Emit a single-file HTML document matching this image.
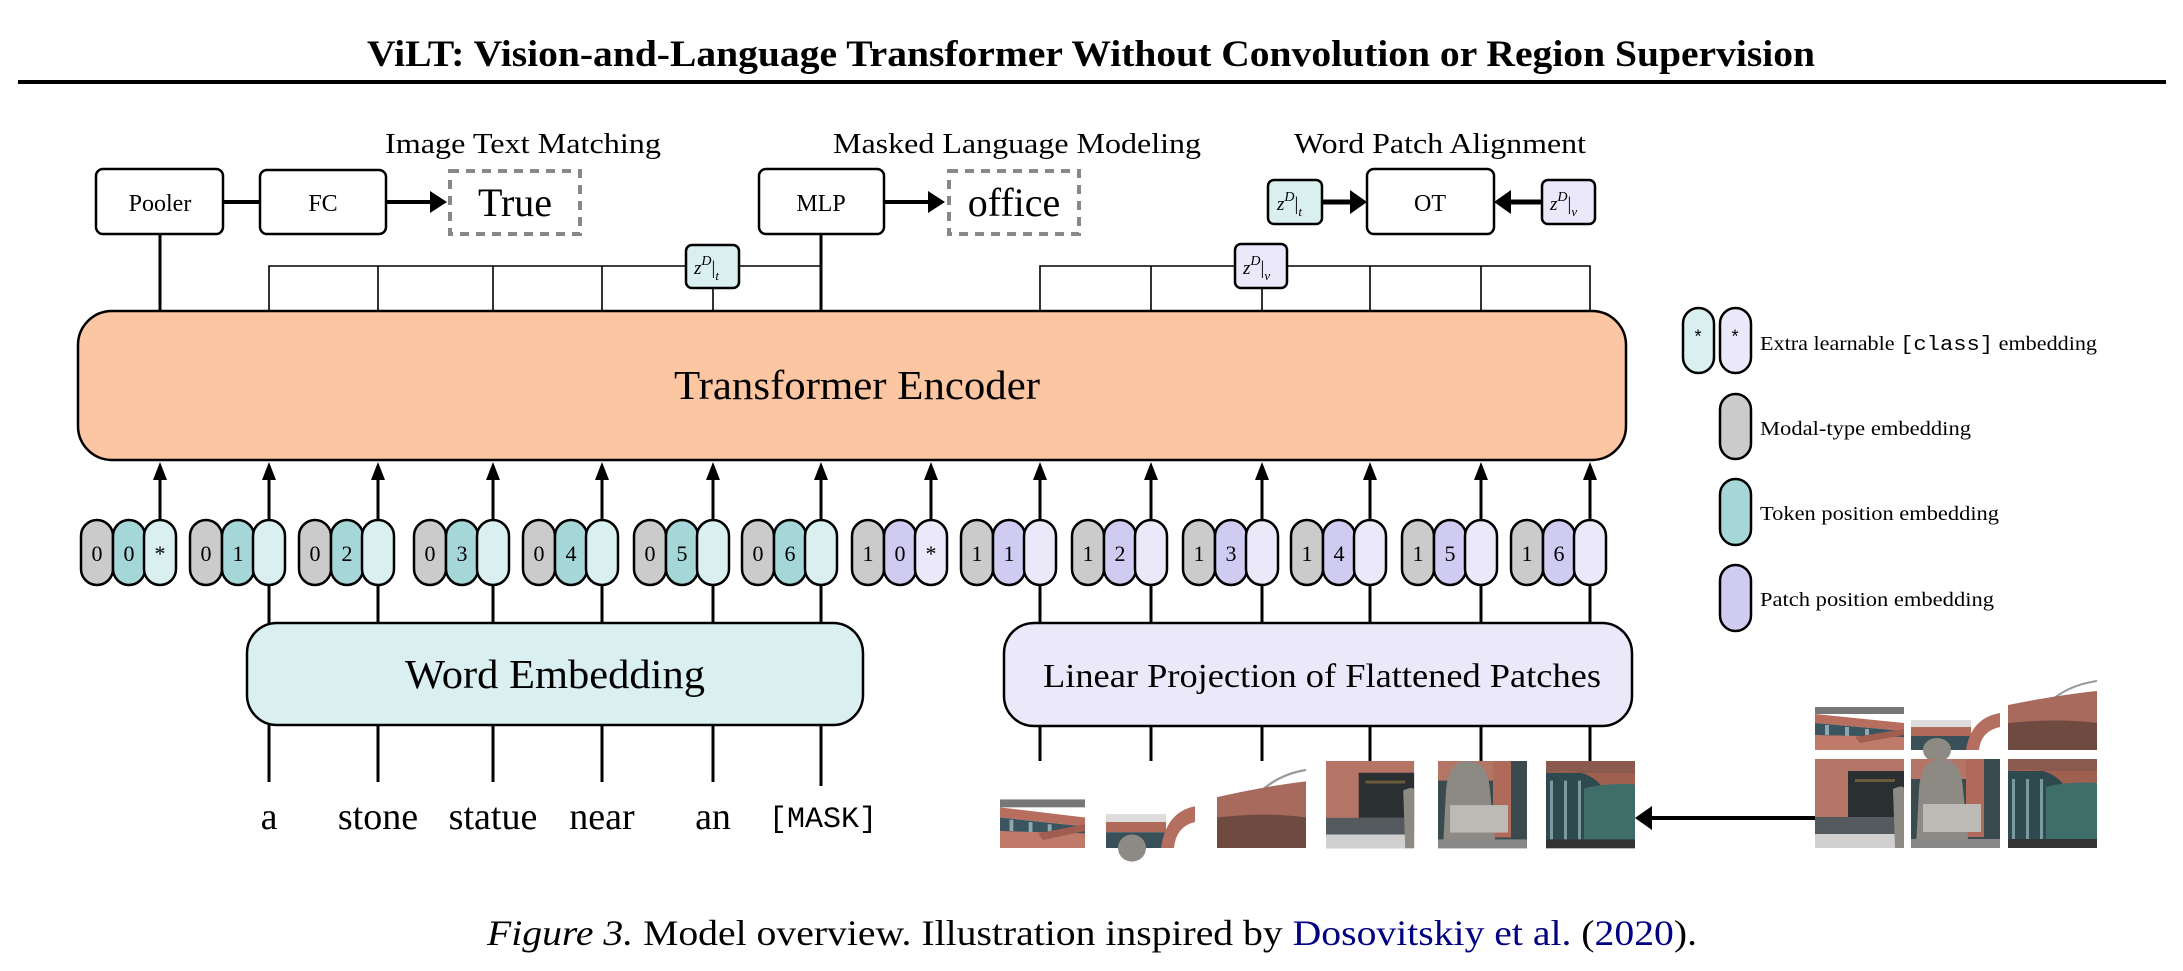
<!DOCTYPE html>
<html><head><meta charset="utf-8"><style>
html,body{margin:0;padding:0;background:#fff}
svg{display:block}
text{font-family:"Liberation Serif",serif;fill:#000}
.c{stroke:#000;stroke-width:2.5}
.g{fill:#cbcbcb}.t{fill:#a6d7d8}.lt{fill:#d9eff0}.p{fill:#cfcbf1}.lp{fill:#ebe8f9}
.n{font-size:22px;text-anchor:middle}
.th{stroke:#000;stroke-width:1.6;fill:none}
.tk{stroke:#000;stroke-width:3;fill:none}
.box{fill:#fff;stroke:#000;stroke-width:2.5}
</style></head><body>
<svg width="2183" height="971" viewBox="0 0 2183 971" xmlns="http://www.w3.org/2000/svg">
<defs>
<g id="pA"><rect width="89" height="77" fill="#fff"/><rect y="34" width="89" height="7" fill="#777"/><polygon points="0,41 89,50 89,58 0,50" fill="#b86e5e"/><polygon points="0,50 89,58 89,68 0,62" fill="#3a5560"/><rect x="10" y="52" width="4" height="10" fill="#8fa7ae"/><rect x="30" y="54" width="4" height="10" fill="#8fa7ae"/><rect x="50" y="56" width="4" height="10" fill="#8fa7ae"/><polygon points="0,62 89,64 89,77 0,77" fill="#c07a6a"/><polygon points="40,64 89,56 89,62 45,70" fill="#a05d50"/></g>
<g id="pB"><rect width="89" height="77" fill="#fff"/><rect x="0" y="47" width="60" height="7" fill="#ddd"/><rect x="0" y="54" width="60" height="9" fill="#b06a5a"/><rect x="0" y="63" width="60" height="14" fill="#3a5058"/><path d="M55,77 Q60,45 89,40 L89,54 Q70,58 68,77 Z" fill="#b56f60"/><ellipse cx="26" cy="77" rx="14" ry="12" fill="#8d8a84"/></g>
<g id="pC"><rect width="89" height="77" fill="#fff"/><path d="M40,30 Q60,12 89,8" stroke="#999" stroke-width="2" fill="none"/><path d="M0,32 Q50,22 89,18 L89,77 L0,77 Z" fill="#a86a5c"/><path d="M0,50 Q50,45 89,50 L89,77 L0,77 Z" fill="#6e4a40"/></g>
<g id="pD"><rect width="89" height="89" fill="#b57566"/><rect x="33" y="12" width="56" height="46" fill="#2a3032"/><rect x="40" y="20" width="40" height="3" fill="#6a5a3a"/><rect y="58" width="89" height="17" fill="#555a5e"/><rect y="75" width="89" height="14" fill="#d0d0d0"/><path d="M78,30 Q89,25 89,30 L89,89 L80,89 Z" fill="#8d8a84"/></g>
<g id="pE"><rect width="89" height="89" fill="#3a4a4e"/><rect x="55" y="0" width="18" height="78" fill="#b06a5a"/><rect x="0" y="0" width="55" height="20" fill="#b57566"/><path d="M5,89 L8,30 Q10,0 30,0 Q50,0 52,30 L58,89 Z" fill="#8d8a84"/><rect x="12" y="45" width="58" height="28" fill="#bcbab5"/><rect x="0" y="80" width="89" height="9" fill="#888"/></g>
<g id="pF"><rect width="89" height="89" fill="#2f4a4e"/><rect width="89" height="12" fill="#8a5a4e"/><path d="M0,12 Q40,5 55,25 L89,25 L89,12 Z" fill="#a06050"/><rect x="4" y="20" width="3" height="60" fill="#7a9aa0"/><rect x="18" y="20" width="3" height="60" fill="#7a9aa0"/><rect x="32" y="20" width="3" height="60" fill="#7a9aa0"/><path d="M38,28 Q60,22 89,24 L89,86 L38,80 Z" fill="#3f6e6a"/><rect y="80" width="89" height="9" fill="#333"/></g>
<g id="ah"><polygon points="-7,18 7,18 0,0" fill="#000"/></g>
</defs>

<text x="1091" y="66" font-size="37" font-weight="bold" text-anchor="middle" textLength="1448" lengthAdjust="spacingAndGlyphs">ViLT: Vision-and-Language Transformer Without Convolution or Region Supervision</text>
<rect x="18" y="80" width="2148" height="4" fill="#000"/>

<text x="523" y="153" font-size="29" text-anchor="middle" textLength="276" lengthAdjust="spacingAndGlyphs">Image Text Matching</text>
<text x="1017" y="153" font-size="29" text-anchor="middle" textLength="368" lengthAdjust="spacingAndGlyphs">Masked Language Modeling</text>
<text x="1440" y="153" font-size="29" text-anchor="middle" textLength="292" lengthAdjust="spacingAndGlyphs">Word Patch Alignment</text>

<rect class="box" x="96" y="169" width="127" height="65" rx="7"/>
<text x="160" y="211" font-size="24" text-anchor="middle">Pooler</text>
<line class="tk" x1="223" y1="202" x2="260" y2="202" style="stroke-width:4"/>
<rect class="box" x="260" y="170" width="126" height="64" rx="7"/>
<text x="323" y="211" font-size="24" text-anchor="middle">FC</text>
<line class="tk" x1="386" y1="202" x2="432" y2="202" style="stroke-width:4"/>
<polygon points="430,191 447,202 430,213" fill="#000"/>
<rect x="450" y="171" width="130" height="63" fill="none" stroke="#888" stroke-width="4" stroke-dasharray="9,7"/>
<text x="515" y="216" font-size="40" text-anchor="middle">True</text>

<rect class="box" x="759" y="169" width="125" height="65" rx="7"/>
<text x="821" y="211" font-size="24" text-anchor="middle">MLP</text>
<line class="tk" x1="884" y1="202" x2="930" y2="202" style="stroke-width:4"/>
<polygon points="928,191 945,202 928,213" fill="#000"/>
<rect x="949" y="171" width="130" height="63" fill="none" stroke="#888" stroke-width="4" stroke-dasharray="9,7"/>
<text x="1014" y="216" font-size="40" text-anchor="middle">office</text>

<rect x="1268" y="180" width="54" height="44" rx="6" class="lt c"/>
<text x="1277" y="210" font-size="19" font-style="italic">z<tspan dy="-9" font-size="14">D</tspan><tspan dy="9" font-style="normal">|</tspan><tspan dy="6" font-size="13">t</tspan></text>
<line class="tk" x1="1322" y1="202" x2="1352" y2="202" style="stroke-width:5"/>
<polygon points="1350,190 1367,202 1350,214" fill="#000"/>
<rect class="box" x="1367" y="169" width="127" height="65" rx="7"/>
<text x="1430" y="211" font-size="24" text-anchor="middle">OT</text>
<line class="tk" x1="1510" y1="202" x2="1542" y2="202" style="stroke-width:5"/>
<polygon points="1511,190 1494,202 1511,214" fill="#000"/>
<rect x="1542" y="180" width="53" height="44" rx="6" class="lp c"/>
<text x="1550" y="210" font-size="19" font-style="italic">z<tspan dy="-9" font-size="14">D</tspan><tspan dy="9" font-style="normal">|</tspan><tspan dy="6" font-size="13">v</tspan></text>

<line class="tk" x1="160" y1="234" x2="160" y2="312"/>
<line class="tk" x1="821" y1="234" x2="821" y2="312"/>
<path class="th" d="M269,312 V266 H821 M378,266 V312 M493,266 V312 M602,266 V312 M713,266 V312"/>
<rect x="686" y="245" width="53" height="43" rx="6" class="lt c"/>
<text x="694" y="274" font-size="19" font-style="italic">z<tspan dy="-9" font-size="14">D</tspan><tspan dy="9" font-style="normal">|</tspan><tspan dy="6" font-size="13">t</tspan></text>
<path class="th" d="M1040,312 V266 H1590 V312 M1151,266 V312 M1262,266 V312 M1370,266 V312 M1481,266 V312"/>
<rect x="1235" y="244" width="52" height="44" rx="6" class="lp c"/>
<text x="1243" y="274" font-size="19" font-style="italic">z<tspan dy="-9" font-size="14">D</tspan><tspan dy="9" font-style="normal">|</tspan><tspan dy="6" font-size="13">v</tspan></text>

<rect x="78" y="311" width="1548" height="149" rx="34" fill="#fcc6a2" stroke="#000" stroke-width="2.5"/>
<text x="857" y="399" font-size="41" text-anchor="middle" textLength="366" lengthAdjust="spacingAndGlyphs">Transformer Encoder</text>

<g stroke="#000" stroke-width="3">
<line x1="160" y1="475" x2="160" y2="521"/><line x1="269" y1="475" x2="269" y2="521"/><line x1="378" y1="475" x2="378" y2="521"/><line x1="493" y1="475" x2="493" y2="521"/><line x1="602" y1="475" x2="602" y2="521"/><line x1="713" y1="475" x2="713" y2="521"/><line x1="821" y1="475" x2="821" y2="521"/><line x1="931" y1="475" x2="931" y2="521"/><line x1="1040" y1="475" x2="1040" y2="521"/><line x1="1151" y1="475" x2="1151" y2="521"/><line x1="1262" y1="475" x2="1262" y2="521"/><line x1="1370" y1="475" x2="1370" y2="521"/><line x1="1481" y1="475" x2="1481" y2="521"/><line x1="1590" y1="475" x2="1590" y2="521"/>
</g>
<use href="#ah" x="160" y="462"/><use href="#ah" x="269" y="462"/><use href="#ah" x="378" y="462"/><use href="#ah" x="493" y="462"/><use href="#ah" x="602" y="462"/><use href="#ah" x="713" y="462"/><use href="#ah" x="821" y="462"/><use href="#ah" x="931" y="462"/><use href="#ah" x="1040" y="462"/><use href="#ah" x="1151" y="462"/><use href="#ah" x="1262" y="462"/><use href="#ah" x="1370" y="462"/><use href="#ah" x="1481" y="462"/><use href="#ah" x="1590" y="462"/>

<g stroke="#000" stroke-width="3">
<line x1="269" y1="585" x2="269" y2="624"/><line x1="378" y1="585" x2="378" y2="624"/><line x1="493" y1="585" x2="493" y2="624"/><line x1="602" y1="585" x2="602" y2="624"/><line x1="713" y1="585" x2="713" y2="624"/><line x1="821" y1="585" x2="821" y2="624"/>
<line x1="1040" y1="585" x2="1040" y2="624"/><line x1="1151" y1="585" x2="1151" y2="624"/><line x1="1262" y1="585" x2="1262" y2="624"/><line x1="1370" y1="585" x2="1370" y2="624"/><line x1="1481" y1="585" x2="1481" y2="624"/><line x1="1590" y1="585" x2="1590" y2="624"/>
<line x1="269" y1="725" x2="269" y2="782"/><line x1="378" y1="725" x2="378" y2="782"/><line x1="493" y1="725" x2="493" y2="782"/><line x1="602" y1="725" x2="602" y2="782"/><line x1="713" y1="725" x2="713" y2="782"/><line x1="821" y1="725" x2="821" y2="786"/>
<line x1="1040" y1="726" x2="1040" y2="761"/><line x1="1151" y1="726" x2="1151" y2="761"/><line x1="1262" y1="726" x2="1262" y2="761"/><line x1="1370" y1="726" x2="1370" y2="761"/><line x1="1481" y1="726" x2="1481" y2="761"/><line x1="1590" y1="726" x2="1590" y2="761"/>
</g>

<g transform="translate(81,520)"><rect class="c g" x="0" width="32" height="65" rx="16"/><rect class="c t" x="32" width="32" height="65" rx="16"/><rect class="c lt" x="63" width="32" height="65" rx="16"/><text class="n" x="16" y="41">0</text><text class="n" x="48" y="41">0</text><text class="n" x="79" y="41">*</text></g>
<g transform="translate(190,520)"><rect class="c g" x="0" width="32" height="65" rx="16"/><rect class="c t" x="32" width="32" height="65" rx="16"/><rect class="c lt" x="63" width="32" height="65" rx="16"/><text class="n" x="16" y="41">0</text><text class="n" x="48" y="41">1</text></g>
<g transform="translate(299,520)"><rect class="c g" x="0" width="32" height="65" rx="16"/><rect class="c t" x="32" width="32" height="65" rx="16"/><rect class="c lt" x="63" width="32" height="65" rx="16"/><text class="n" x="16" y="41">0</text><text class="n" x="48" y="41">2</text></g>
<g transform="translate(414,520)"><rect class="c g" x="0" width="32" height="65" rx="16"/><rect class="c t" x="32" width="32" height="65" rx="16"/><rect class="c lt" x="63" width="32" height="65" rx="16"/><text class="n" x="16" y="41">0</text><text class="n" x="48" y="41">3</text></g>
<g transform="translate(523,520)"><rect class="c g" x="0" width="32" height="65" rx="16"/><rect class="c t" x="32" width="32" height="65" rx="16"/><rect class="c lt" x="63" width="32" height="65" rx="16"/><text class="n" x="16" y="41">0</text><text class="n" x="48" y="41">4</text></g>
<g transform="translate(634,520)"><rect class="c g" x="0" width="32" height="65" rx="16"/><rect class="c t" x="32" width="32" height="65" rx="16"/><rect class="c lt" x="63" width="32" height="65" rx="16"/><text class="n" x="16" y="41">0</text><text class="n" x="48" y="41">5</text></g>
<g transform="translate(742,520)"><rect class="c g" x="0" width="32" height="65" rx="16"/><rect class="c t" x="32" width="32" height="65" rx="16"/><rect class="c lt" x="63" width="32" height="65" rx="16"/><text class="n" x="16" y="41">0</text><text class="n" x="48" y="41">6</text></g>
<g transform="translate(852,520)"><rect class="c g" x="0" width="32" height="65" rx="16"/><rect class="c p" x="32" width="32" height="65" rx="16"/><rect class="c lp" x="63" width="32" height="65" rx="16"/><text class="n" x="16" y="41">1</text><text class="n" x="48" y="41">0</text><text class="n" x="79" y="41">*</text></g>
<g transform="translate(961,520)"><rect class="c g" x="0" width="32" height="65" rx="16"/><rect class="c p" x="32" width="32" height="65" rx="16"/><rect class="c lp" x="63" width="32" height="65" rx="16"/><text class="n" x="16" y="41">1</text><text class="n" x="48" y="41">1</text></g>
<g transform="translate(1072,520)"><rect class="c g" x="0" width="32" height="65" rx="16"/><rect class="c p" x="32" width="32" height="65" rx="16"/><rect class="c lp" x="63" width="32" height="65" rx="16"/><text class="n" x="16" y="41">1</text><text class="n" x="48" y="41">2</text></g>
<g transform="translate(1183,520)"><rect class="c g" x="0" width="32" height="65" rx="16"/><rect class="c p" x="32" width="32" height="65" rx="16"/><rect class="c lp" x="63" width="32" height="65" rx="16"/><text class="n" x="16" y="41">1</text><text class="n" x="48" y="41">3</text></g>
<g transform="translate(1291,520)"><rect class="c g" x="0" width="32" height="65" rx="16"/><rect class="c p" x="32" width="32" height="65" rx="16"/><rect class="c lp" x="63" width="32" height="65" rx="16"/><text class="n" x="16" y="41">1</text><text class="n" x="48" y="41">4</text></g>
<g transform="translate(1402,520)"><rect class="c g" x="0" width="32" height="65" rx="16"/><rect class="c p" x="32" width="32" height="65" rx="16"/><rect class="c lp" x="63" width="32" height="65" rx="16"/><text class="n" x="16" y="41">1</text><text class="n" x="48" y="41">5</text></g>
<g transform="translate(1511,520)"><rect class="c g" x="0" width="32" height="65" rx="16"/><rect class="c p" x="32" width="32" height="65" rx="16"/><rect class="c lp" x="63" width="32" height="65" rx="16"/><text class="n" x="16" y="41">1</text><text class="n" x="48" y="41">6</text></g>

<rect x="247" y="623" width="616" height="102" rx="30" fill="#d9eff0" stroke="#000" stroke-width="2.5"/>
<text x="555" y="688" font-size="41" text-anchor="middle" textLength="300" lengthAdjust="spacingAndGlyphs">Word Embedding</text>
<rect x="1004" y="623" width="628" height="103" rx="30" fill="#ebe8f9" stroke="#000" stroke-width="2.5"/>
<text x="1322" y="687" font-size="34" text-anchor="middle" textLength="558" lengthAdjust="spacingAndGlyphs">Linear Projection of Flattened Patches</text>

<g font-size="38" text-anchor="middle">
<text x="269" y="829">a</text><text x="378" y="829">stone</text><text x="493" y="829">statue</text><text x="602" y="829">near</text><text x="713" y="829">an</text>
<text x="823" y="827" font-size="30" style="font-family:'Liberation Mono',monospace">[MASK]</text>
</g>

<use href="#pA" transform="translate(1000,761) scale(0.955,1.13)"/>
<use href="#pB" transform="translate(1106,761) scale(1,1.13)"/>
<use href="#pC" transform="translate(1217,761) scale(1,1.13)"/>
<use href="#pD" transform="translate(1326,761) scale(0.99,0.98)"/>
<use href="#pE" transform="translate(1438,761) scale(1,0.98)"/>
<use href="#pF" transform="translate(1546,761) scale(1,0.98)"/>
<line x1="1815" y1="818" x2="1650" y2="818" stroke="#000" stroke-width="4"/>
<polygon points="1652,806 1635,818 1652,830" fill="#000"/>
<use href="#pA" transform="translate(1815,673)"/>
<use href="#pB" transform="translate(1911,673)"/>
<use href="#pC" transform="translate(2008,673)"/>
<use href="#pD" transform="translate(1815,759)"/>
<use href="#pE" transform="translate(1911,759)"/>
<use href="#pF" transform="translate(2008,759)"/>

<rect class="c lt" x="1683" y="308" width="31" height="65" rx="15.5"/>
<rect class="c lp" x="1720" y="308" width="31" height="65" rx="15.5"/>
<text x="1698" y="343" font-size="18" text-anchor="middle" style="font-family:'Liberation Mono',monospace">*</text>
<text x="1735" y="343" font-size="18" text-anchor="middle" style="font-family:'Liberation Mono',monospace">*</text>
<text x="1760" y="350" font-size="20" textLength="337" lengthAdjust="spacingAndGlyphs">Extra learnable <tspan style="font-family:'Liberation Mono',monospace">[class]</tspan> embedding</text>
<rect class="c g" x="1720" y="394" width="31" height="65" rx="15.5"/>
<text x="1760" y="435" font-size="20" textLength="211" lengthAdjust="spacingAndGlyphs">Modal-type embedding</text>
<rect class="c t" x="1720" y="479" width="31" height="66" rx="15.5"/>
<text x="1760" y="520" font-size="20" textLength="239" lengthAdjust="spacingAndGlyphs">Token position embedding</text>
<rect class="c p" x="1720" y="565" width="31" height="66" rx="15.5"/>
<text x="1760" y="606" font-size="20" textLength="234" lengthAdjust="spacingAndGlyphs">Patch position embedding</text>

<text x="1092" y="945" font-size="36" text-anchor="middle" textLength="1210" lengthAdjust="spacingAndGlyphs"><tspan font-style="italic">Figure 3.</tspan> Model overview. Illustration inspired by <tspan style="fill:#000080">Dosovitskiy et al.</tspan> (<tspan style="fill:#000080">2020</tspan>).</text>
</svg>
</body></html>
